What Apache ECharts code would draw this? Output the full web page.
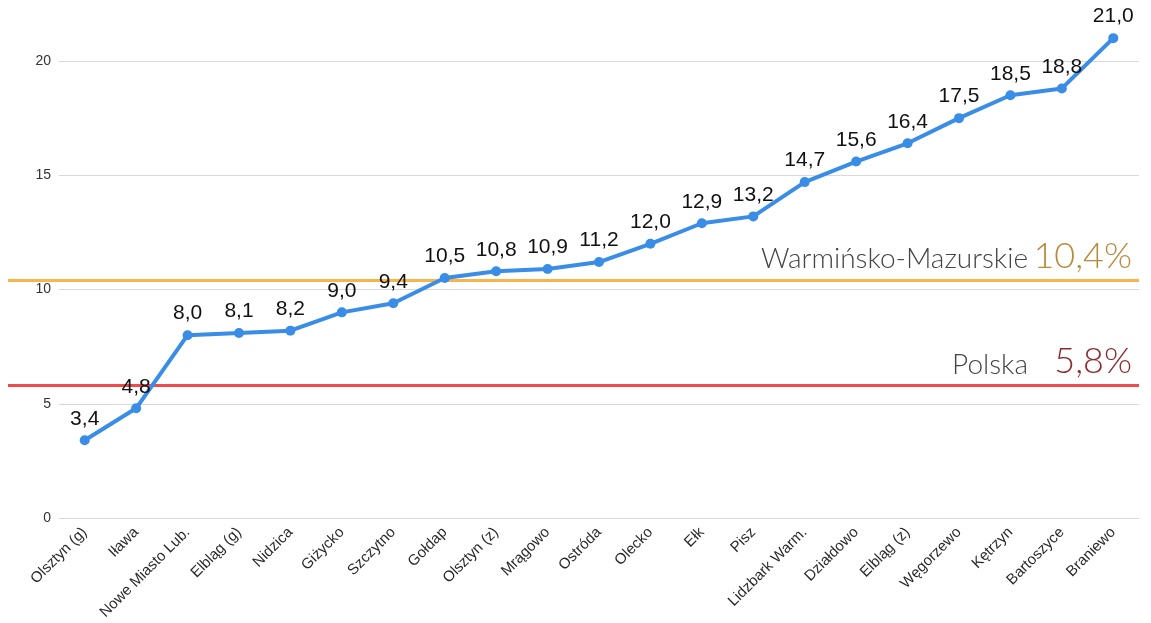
<!DOCTYPE html>
<html>
<head>
<meta charset="utf-8">
<script src="https://cdn.jsdelivr.net/npm/echarts@6/dist/echarts.min.js"></script>
<style>html,body{margin:0;padding:0;background:#fff}#c{width:1151px;height:623px}</style>
</head>
<body>
<div id="c"></div>
<script>
const categories = ["Olsztyn (g)","Iława","Nowe Miasto Lub.","Elbląg (g)","Nidzica","Giżycko","Szczytno","Gołdap","Olsztyn (z)","Mrągowo","Ostróda","Olecko","Ełk","Pisz","Lidzbark Warm.","Działdowo","Elbląg (z)","Węgorzewo","Kętrzyn","Bartoszyce","Braniewo"];
const values = [3.4,4.8,8.0,8.1,8.2,9.0,9.4,10.5,10.8,10.9,11.2,12.0,12.9,13.2,14.7,15.6,16.4,17.5,18.5,18.8,21.0];
const refNames = ["Warmińsko-Mazurskie","Polska"];
const refValues = [10.4,5.8];
const yTicks = [0,5,10,15,20];

const fmt = v => v.toFixed(1).replace('.', ',');
const refColors = ['#f9b54a','#ef4b4b'];
const refTextColors = ['#b88a3c','#8e2a2e'];

const chart = echarts.init(document.getElementById('c'));
chart.setOption({
  animation:false,
  backgroundColor:'#fff',
  grid:[
    {left:59,right:12,top:61,bottom:105},
    {left:8,right:12,top:61,bottom:105}
  ],
  xAxis:[
    {type:'category',gridIndex:0,data:categories,boundaryGap:true,
     axisLine:{show:false},axisTick:{show:false},
     axisLabel:{rotate:45,interval:0,color:'#2a2a2a',fontSize:15,fontFamily:'Liberation Sans, Arial',margin:12}},
    {type:'value',gridIndex:1,min:0,max:1,show:false}
  ],
  yAxis:[
    {type:'value',gridIndex:0,min:yTicks[0],max:yTicks[yTicks.length-1],interval:5,
     axisLine:{show:false},axisTick:{show:false},
     axisLabel:{color:'#333',fontSize:14,fontFamily:'Liberation Sans, Arial',margin:8},
     splitLine:{lineStyle:{color:'#d9d9d9',width:1}}},
    {type:'value',gridIndex:1,min:0,max:20,show:false}
  ],
  series:[
    {type:'line',xAxisIndex:1,yAxisIndex:1,data:[],silent:true,z:1,
     markLine:{silent:true,symbol:'none',
       data:refValues.map((v,i)=>({
         yAxis:v,
         lineStyle:{color:refColors[i],width:3,type:'solid'},
         label:{show:true,position:'insideEndTop',distance:[7,6],
           formatter:'{a|'+refNames[i]+'}{b|'+fmt(v)+'%}',
           rich:{
             a:{fontSize:28,color:'#444',fontFamily:'Lato, Open Sans',fontWeight:300,verticalAlign:'bottom',padding:[0,6,1,0]},
             b:{fontSize:36,color:refTextColors[i],fontFamily:'Lato, Open Sans',fontWeight:300,verticalAlign:'bottom',width:98,align:'right'}
           }}
       }))
     }},
    {type:'line',xAxisIndex:0,yAxisIndex:0,data:values,clip:false,z:5,
     symbol:'circle',symbolSize:10,
     lineStyle:{color:'#3a8de6',width:4},
     itemStyle:{color:'#3a8de6'},
     label:{show:true,position:'top',distance:6,color:'#111',fontSize:21,
       fontFamily:'Liberation Sans Narrow, Liberation Sans, Arial',
       formatter:p=>fmt(p.value)}}
  ]
});
</script>
</body>
</html>
